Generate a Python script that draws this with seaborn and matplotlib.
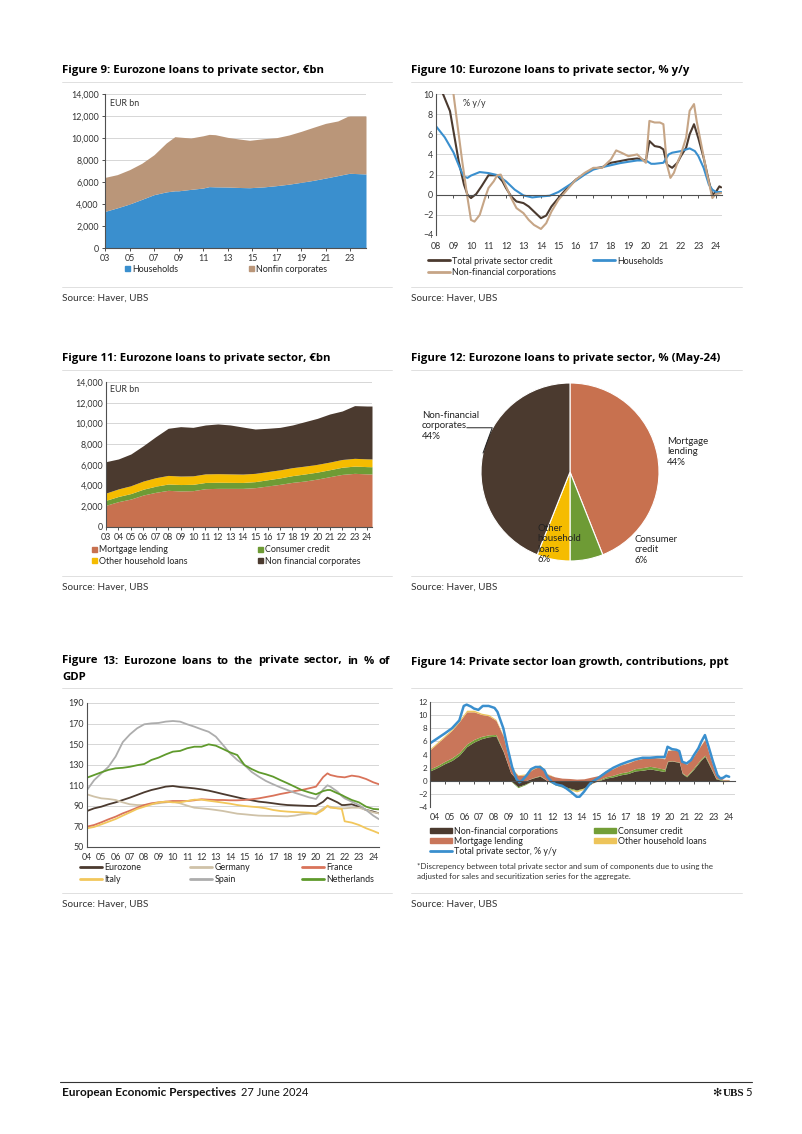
import numpy as np
import pandas as pd
import seaborn as sns
import matplotlib.pyplot as plt
from matplotlib.lines import Line2D
from matplotlib.patches import Patch
from matplotlib.ticker import FuncFormatter

# Colours picked off the page
ubs_blue = '#3A8FCE'
tan = '#BA9679'
light_tan = '#C6A586'
dark_brown = '#4B3A2F'
terracotta = '#C8714F'
green = '#6E9B35'
yellow = '#F5BC00'
grid_col = '#D0D0D0'
axis_col = '#505050'
tick_col = '#333333'

# ---------------- Figure 9: loans to private sector, EUR bn ----------------
f9_years = [2003, 2004, 2005, 2006, 2007, 2008, 2008.7, 2009, 2010, 2011, 2011.5, 2012, 2013,
            2014, 2014.8, 2016, 2017, 2018, 2019, 2020, 2021, 2022, 2022.8, 2023, 2024.3]
f9_households = [3330, 3650, 4000, 4420, 4850, 5100, 5200, 5200, 5330, 5450, 5580, 5560, 5545,
                 5500, 5480, 5560, 5670, 5800, 5970, 6150, 6360, 6580, 6760, 6790, 6730]
f9_nonfin = [3090, 3020, 3120, 3280, 3630, 4450, 4920, 4890, 4670, 4750, 4750, 4740, 4515,
             4400, 4310, 4380, 4360, 4470, 4630, 4820, 4970, 4970, 5210, 5210, 5270]

# ---------------- Figure 10: % y/y ----------------
f10_total_x = [2008.0, 2008.4, 2008.8, 2009.0, 2009.3, 2009.6, 2009.8, 2010.0, 2010.3, 2010.6,
               2011.0, 2011.3, 2011.5, 2011.8, 2012.0, 2012.3, 2012.6, 2013.0, 2013.3, 2013.6,
               2014.0, 2014.3, 2014.6, 2015.0, 2015.5, 2016.0, 2016.5, 2017.0, 2017.5, 2018.0,
               2018.5, 2019.0, 2019.5, 2020.0, 2020.2, 2020.5, 2020.8, 2021.0, 2021.2, 2021.5,
               2021.8, 2022.0, 2022.3, 2022.5, 2022.75, 2023.0, 2023.3, 2023.6, 2023.8, 2024.0,
               2024.2, 2024.3]
f10_total = [11.5, 10.0, 8.3, 6.3, 3.3, 1.0, 0.0, -0.33, 0.07, 0.83,
             1.93, 1.93, 1.93, 1.33, 0.67, -0.17, -0.67, -0.83, -1.17, -1.67,
             -2.33, -2.07, -1.17, -0.33, 0.67, 1.5, 2.07, 2.6, 2.73, 3.17,
             3.33, 3.5, 3.6, 3.4, 5.33, 4.83, 4.73, 4.5, 3.0, 2.67,
             3.17, 3.83, 4.67, 6.0, 7.0, 5.6, 3.67, 1.33, 0.0, 0.27,
             0.83, 0.73]
f10_hh_x = [2008.0, 2008.5, 2009.0, 2009.4, 2009.6, 2009.8, 2010.0, 2010.5, 2011.0, 2011.5,
            2012.0, 2012.5, 2013.0, 2013.5, 2014.0, 2014.5, 2015.0, 2015.5, 2016.0, 2016.5,
            2017.0, 2017.5, 2018.0, 2018.5, 2019.0, 2019.5, 2020.0, 2020.3, 2020.5, 2021.0,
            2021.3, 2021.5, 2022.0, 2022.5, 2022.8, 2023.0, 2023.3, 2023.6, 2023.8, 2024.0,
            2024.3]
f10_hh = [6.8, 5.7, 4.2, 2.5, 1.8, 1.67, 1.9, 2.25, 2.15, 1.95,
          1.33, 0.5, -0.07, -0.27, -0.17, -0.1, 0.27, 0.83, 1.4, 2.0,
          2.5, 2.73, 2.93, 3.13, 3.27, 3.4, 3.4, 3.07, 3.07, 3.17,
          4.0, 4.17, 4.33, 4.6, 4.33, 3.83, 2.67, 1.0, 0.5, 0.27,
          0.27]
f10_nfc_x = [2008.0, 2009.0, 2009.2, 2009.5, 2009.8, 2010.0, 2010.2, 2010.5, 2010.8, 2011.0,
             2011.3, 2011.5, 2011.7, 2012.0, 2012.3, 2012.6, 2013.0, 2013.3, 2013.6, 2014.0,
             2014.3, 2014.6, 2015.0, 2015.5, 2016.0, 2016.5, 2017.0, 2017.5, 2018.0, 2018.3,
             2018.6, 2019.0, 2019.5, 2020.0, 2020.2, 2020.5, 2020.8, 2021.0, 2021.2, 2021.4,
             2021.6, 2021.8, 2022.0, 2022.3, 2022.5, 2022.75, 2022.9, 2023.2, 2023.5, 2023.8,
             2024.0, 2024.3]
f10_nfc = [14.0, 10.0, 7.3, 3.3, -0.3, -2.5, -2.67, -2.0, -0.33, 0.67,
           1.33, 1.93, 2.0, 0.83, -0.33, -1.33, -1.83, -2.5, -3.0, -3.4,
           -2.83, -1.67, -0.5, 0.5, 1.5, 2.17, 2.67, 2.67, 3.5, 4.4,
           4.17, 3.83, 4.0, 3.17, 7.33, 7.17, 7.17, 7.0, 3.0, 1.67,
           2.17, 3.17, 4.0, 5.67, 8.33, 9.0, 7.33, 4.67, 2.0, -0.33,
           0.07, 0.17]

# ---------------- Figure 11: breakdown, EUR bn ----------------
f11_years = [2003, 2004, 2005, 2006, 2007, 2008, 2009, 2010, 2011, 2012, 2013, 2014,
             2015, 2016, 2017, 2018, 2019, 2020, 2021, 2022, 2023, 2024, 2024.4]
f11_mortgage = [2100, 2450, 2700, 3090, 3350, 3540, 3480, 3510, 3700, 3730, 3730, 3730,
                3800, 3960, 4120, 4310, 4440, 4630, 4860, 5080, 5180, 5130, 5120]
f11_consumer = [480, 500, 530, 560, 590, 610, 620, 610, 600, 590, 580, 570,
                580, 600, 620, 650, 680, 670, 670, 690, 700, 700, 700]
f11_other = [700, 730, 760, 790, 820, 830, 820, 820, 830, 830, 820, 810,
             800, 790, 780, 770, 760, 750, 740, 750, 750, 750, 750]
f11_nfc = [3030, 2890, 3060, 3410, 3960, 4550, 4770, 4680, 4720, 4800, 4720, 4540,
           4280, 4180, 4100, 4120, 4290, 4440, 4640, 4680, 5090, 5100, 5110]

# ---------------- Figure 12: shares May-24 ----------------
f12_labels = ['Mortgage\nlending\n44%', 'Consumer\ncredit\n6%',
              'Other\nhousehold\nloans\n6%', 'Non-financial\ncorporates\n44%']
f12_shares = [44, 6, 6, 44]

# ---------------- Figure 13: % of GDP ----------------
f13_years = [2004.0, 2004.5, 2005.0, 2005.5, 2006.0, 2006.5, 2007.0, 2007.5, 2008.0, 2008.5,
             2009.0, 2009.5, 2010.0, 2010.5, 2011.0, 2011.5, 2012.0, 2012.5, 2013.0, 2013.5,
             2014.0, 2014.5, 2015.0, 2015.5, 2016.0, 2016.5, 2017.0, 2017.5, 2018.0, 2018.5,
             2019.0, 2019.5, 2020.0, 2020.5, 2020.8, 2021.0, 2021.5, 2021.8, 2022.0, 2022.5,
             2023.0, 2023.5, 2024.0, 2024.4]
f13_eurozone = [85, 87.6, 89.2, 91.5, 93.4, 95.7, 98, 100.6, 103.2, 105.4,
                107, 108.7, 109.3, 108.3, 107.7, 107, 106, 104.8, 103.2, 101.5,
                99.9, 98.3, 96.7, 95.4, 94.1, 93.4, 92.5, 91.5, 90.8, 90.5,
                90.2, 89.9, 89.9, 94, 98, 96.7, 93.4, 90.8, 90.8, 91.5,
                89.2, 86, 84.4, 82.7]
f13_germany = [101.2, 99, 97.3, 96.7, 95.7, 93.4, 91.5, 90.8, 90.8, 91.5,
               92.5, 93.4, 94.1, 92.5, 90.2, 88.2, 87.6, 86.9, 86, 85,
               83.7, 82.4, 81.8, 81.1, 80.5, 80.3, 80.2, 80.0, 79.8, 80.5,
               81.8, 82.4, 82.7, 87.6, 89.5, 89.2, 87.6, 87.6, 87.6, 88.2,
               88.2, 86, 83.7, 82.7]
f13_france = [69.8, 71.4, 74, 76.9, 79.5, 82.7, 85.3, 88.2, 90.8, 92.5,
              93.4, 94.1, 94.7, 94.7, 94.7, 95.4, 96.4, 96, 95.7, 95.7,
              95.4, 95.4, 95.7, 96.4, 97.3, 98.6, 99.9, 101.5, 102.8, 104.4,
              105.4, 107, 108.7, 118, 121.6, 120, 118.4, 118, 117.7, 119.4,
              118.4, 116.1, 112.9, 111]
f13_italy = [68.2, 69.5, 72, 74.6, 77.2, 80.5, 83.7, 87, 89.2, 91.5,
             93.4, 94.1, 93.4, 93.4, 94.7, 96, 96, 95, 94.1, 93.1,
             92.1, 90.8, 89.9, 89.2, 88.6, 87.6, 86, 85, 84.4, 84,
             83.7, 83.4, 81.8, 86, 90.2, 88.2, 87.6, 87, 75, 73.7,
             71.4, 68.2, 65.6, 63.3]
f13_spain = [105.4, 115, 121.6, 128, 138, 152, 159.5, 165.4, 169.3, 170.2,
             170.6, 171.9, 172.5, 171.9, 169.3, 167, 164.4, 162, 157.3, 149.2,
             141, 134.6, 129.7, 123, 118.4, 114.2, 111, 108, 105.4, 102.8,
             100.6, 98.3, 96.7, 106, 110, 108.7, 103.8, 99.5, 97.3, 94,
             90.8, 86, 80.5, 77]
f13_netherlands = [117.4, 120, 122.6, 125, 126.5, 127, 128, 129.5, 130.7, 134.6,
                   136.9, 140, 142.7, 143.4, 146, 147.5, 147.5, 149.8, 148.5, 145.3,
                   142, 139.4, 129.7, 125.8, 122.6, 120.7, 118.4, 115.1, 112, 108.7,
                   105.4, 103.2, 101.2, 104.4, 105.4, 105.4, 102.2, 100.5, 99, 95.7,
                   93.4, 89.2, 87, 86.6]

# ---------------- Figure 14: contributions, ppt ----------------
f14_comp_x = [2004.0, 2004.5, 2005.0, 2005.5, 2006.0, 2006.5, 2007.0, 2007.5, 2008.0, 2008.5,
              2009.0, 2009.5, 2010.0, 2010.5, 2011.0, 2011.5, 2012.0, 2012.5, 2013.0, 2013.5,
              2014.0, 2014.5, 2015.0, 2015.5, 2016.0, 2016.5, 2017.0, 2017.5, 2018.0, 2018.5,
              2019.0, 2019.5, 2020.0, 2020.2, 2020.5, 2021.0, 2021.2, 2021.5, 2022.0, 2022.5,
              2022.75, 2023.0, 2023.5, 2024.0, 2024.4]
f14_nfc = [1.5, 2.0, 2.6, 3.1, 3.9, 5.2, 5.9, 6.4, 6.7, 6.8,
           4.4, 1.2, -0.9, -0.5, 0.4, 0.7, 0.0, -0.5, -0.8, -1.1,
           -1.4, -1.1, -0.4, 0.0, 0.4, 0.6, 0.9, 1.1, 1.5, 1.6,
           1.8, 1.6, 1.4, 2.9, 3.0, 2.8, 1.1, 0.6, 1.8, 3.2,
           3.7, 2.6, 0.3, -0.05, 0.0]
f14_consumer = [0.3, 0.3, 0.35, 0.4, 0.4, 0.4, 0.4, 0.35, 0.3, 0.25,
                0.1, -0.05, -0.15, -0.1, 0.05, 0.1, 0.0, -0.1, -0.15, -0.15,
                -0.1, -0.05, 0.05, 0.1, 0.2, 0.25, 0.3, 0.3, 0.35, 0.4,
                0.4, 0.4, 0.35, 0.1, 0.05, 0.05, 0.1, 0.15, 0.2, 0.2,
                0.2, 0.15, 0.1, 0.1, 0.1]
f14_mortgage = [2.9, 3.4, 3.75, 4.2, 4.7, 4.9, 4.2, 3.35, 2.9, 2.15,
                2.3, 0.9, 0.8, 0.9, 1.3, 1.4, 1.0, 0.6, 0.4, 0.35,
                0.25, 0.3, 0.5, 0.7, 0.9, 1.0, 1.2, 1.3, 1.3, 1.4,
                1.4, 1.5, 1.6, 1.6, 1.65, 1.7, 1.7, 1.75, 1.8, 2.1,
                2.4, 1.6, 0.5, 0.1, 0.1]
f14_other = [0.2, 0.2, 0.2, 0.2, 0.25, 0.25, 0.25, 0.2, 0.2, 0.15,
             0.1, 0.05, 0.1, 0.15, 0.2, 0.25, 0.1, 0.0, -0.05, -0.1,
             -0.2, -0.15, -0.05, 0.0, 0.05, 0.05, 0.05, 0.05, 0.05, 0.05,
             0.05, 0.05, 0.05, 0.05, 0.05, 0.05, 0.05, 0.05, 0.05, 0.05,
             0.05, 0.0, -0.05, -0.1, -0.1]
f14_total_x = [2004.0, 2004.5, 2005.0, 2005.5, 2006.0, 2006.3, 2006.5, 2006.8, 2007.0, 2007.3,
               2007.6, 2008.0, 2008.4, 2008.6, 2009.0, 2009.3, 2009.6, 2009.9, 2010.1, 2010.3,
               2010.6, 2010.9, 2011.2, 2011.5, 2011.8, 2012.0, 2012.3, 2012.6, 2013.0, 2013.3,
               2013.6, 2014.0, 2014.2, 2014.5, 2014.8, 2015.0, 2015.5, 2016.0, 2016.5, 2017.0,
               2017.5, 2018.0, 2018.5, 2019.0, 2019.5, 2020.0, 2020.2, 2020.5, 2020.8, 2021.0,
               2021.2, 2021.5, 2021.8, 2022.0, 2022.3, 2022.5, 2022.75, 2023.0, 2023.3, 2023.6,
               2023.8, 2024.0, 2024.2, 2024.4]
f14_total = [5.7, 6.45, 7.2, 8.0, 9.2, 11.4, 11.6, 11.3, 11.0, 10.8,
             11.4, 11.4, 11.1, 10.5, 8.0, 4.9, 2.1, 0.25, -0.25, 0.1,
             0.86, 1.78, 2.1, 2.1, 1.6, 0.6, -0.15, -0.56, -0.76, -1.17,
             -1.68, -2.44, -2.44, -1.68, -0.76, -0.25, 0.46, 1.27, 1.98, 2.49,
             2.9, 3.25, 3.5, 3.5, 3.6, 3.6, 5.18, 4.82, 4.72, 4.52,
             2.9, 2.64, 3.15, 3.91, 4.93, 5.94, 6.96, 5.18, 2.9, 0.86,
             0.36, 0.46, 0.76, 0.61]

# ---------------- page set-up ----------------
sns.set_theme(style='white')
plt.rcParams['font.family'] = ['Lato', 'DejaVu Sans']
plt.rcParams['axes.linewidth'] = 0.8

W, H = 802, 1134
fig = plt.figure(figsize=(W / 100, H / 100), dpi=100)
fig.patch.set_facecolor('white')

TICK_FS = 6.4
LEG_FS = 6.4
TITLE_KW = dict(fontsize=8.2, fontweight='bold', color='black', family=['Open Sans', 'DejaVu Sans'])


def px_axes(left, top, right, bottom):
    return fig.add_axes([left / W, 1 - bottom / H, (right - left) / W, (bottom - top) / H])


def fig_text(x, y, s, **kw):
    kw.setdefault('va', 'center')
    return fig.text(x / W, 1 - y / H, s, **kw)


def justified_text(x0, x1, y, s, **kw):
    # spread the words so the line fills x0..x1, like the justified heading
    words = s.split()
    objs = [fig_text(x0, y, w, **kw) for w in words]
    r = fig.canvas.get_renderer()
    widths = [o.get_window_extent(r).width for o in objs]
    gap = (x1 - x0 - sum(widths)) / (len(words) - 1)
    x = x0
    for o, w in zip(objs, widths):
        o.set_position((x / W, 1 - y / H))
        x += w + gap


def page_line(x0, x1, y, color='#DADADA', lw=0.6):
    fig.add_artist(Line2D([x0 / W, x1 / W], [1 - y / H, 1 - y / H], color=color, lw=lw))


def px_legend(handles, labels, x, y, **kw):
    opts = dict(loc='upper left', bbox_to_anchor=(x / W, 1 - y / H), frameon=False,
                borderaxespad=0, borderpad=0, fontsize=LEG_FS, labelspacing=0.25,
                handletextpad=0.25, labelcolor='#222222')
    opts.update(kw)
    fig.legend(handles, labels, **opts)


def style_axes(ax, ytick_len=0):
    ax.set_facecolor('white')
    for s in ['top', 'right']:
        ax.spines[s].set_visible(False)
    for s in ['left', 'bottom']:
        ax.spines[s].set_color(axis_col)
        ax.spines[s].set_linewidth(0.8)
    ax.yaxis.grid(True, color=grid_col, lw=0.6)
    ax.xaxis.grid(False)
    ax.set_axisbelow(True)
    ax.tick_params(axis='both', labelsize=TICK_FS, colors=tick_col, width=0.6, pad=2,
                   direction='out', left=True, bottom=True)
    ax.tick_params(axis='y', length=ytick_len)
    ax.tick_params(axis='x', length=2.5)
    ax.set_xlabel('')
    ax.set_ylabel('')


def zero_axis(ax, ticks, labels, label_pos, pad):
    # x axis drawn at y = 0 with ticks, labels at the bottom of the plot
    ax.spines['bottom'].set_position(('data', 0))
    ax.set_xticks(ticks)
    ax.tick_params(axis='x', labelbottom=False, length=2.5)
    sec = ax.secondary_xaxis('bottom')
    sec.set_xticks(label_pos, labels)
    sec.tick_params(length=0, labelsize=TICK_FS, colors=tick_col, pad=pad)
    sec.spines['bottom'].set_visible(False)


thousands = FuncFormatter(lambda v, p: f'{v:,.0f}')

# titles, rules and sources
titles = [(62, 70, 'Figure 9: Eurozone loans to private sector, €bn'),
          (411, 70, 'Figure 10: Eurozone loans to private sector, % y/y'),
          (62, 359, 'Figure 11: Eurozone loans to private sector, €bn'),
          (411, 359, 'Figure 12: Eurozone loans to private sector, % (May-24)'),
          (62, 677, 'GDP'),
          (411, 663, 'Figure 14: Private sector loan growth, contributions, ppt')]
for x, y, t in titles:
    fig_text(x, y, t, **TITLE_KW)
justified_text(62, 390, 661, 'Figure 13: Eurozone loans to the private sector, in % of', **TITLE_KW)

for x0, x1 in [(62, 392), (411, 742)]:
    for y in [82, 370, 688]:
        page_line(x0, x1, y)
    for y in [287, 576, 893]:
        page_line(x0, x1, y)
    for y in [298, 587, 904]:
        fig_text(x0, y, 'Source: Haver, UBS', fontsize=7.2, color='#333333')

# ---------------- Figure 9 ----------------
ax9 = px_axes(105, 94, 366, 248)
ax9.stackplot(f9_years, f9_households, f9_nonfin, colors=[ubs_blue, tan], lw=0)
style_axes(ax9, ytick_len=2.5)
ax9.set_xlim(2003, 2024.3)
ax9.set_ylim(0, 14000)
ax9.set_yticks(range(0, 14001, 2000))
ax9.yaxis.set_major_formatter(thousands)
ax9.set_xticks(range(2003, 2024, 2), [f'{y % 100:02d}' for y in range(2003, 2024, 2)])
ax9.text(0.02, 0.94, 'EUR bn', transform=ax9.transAxes, fontsize=TICK_FS, color=tick_col, va='center')
sq = dict(handlelength=0.55, handleheight=0.55)
px_legend([Patch(color=ubs_blue)], ['Households'], 125, 264.5, **sq)
px_legend([Patch(color=tan)], ['Nonfin corporates'], 249, 264.5, **sq)

# ---------------- Figure 10 ----------------
ax10 = px_axes(436, 94, 722, 235)
sns.lineplot(x=f10_total_x, y=f10_total, color=dark_brown, lw=1.5, ax=ax10)
sns.lineplot(x=f10_hh_x, y=f10_hh, color=ubs_blue, lw=1.5, ax=ax10)
sns.lineplot(x=f10_nfc_x, y=f10_nfc, color=light_tan, lw=1.5, ax=ax10)
style_axes(ax10)
ax10.set_xlim(2008, 2024.35)
ax10.set_ylim(-4, 10)
ax10.set_yticks(range(-4, 11, 2))
yrs10 = list(range(2008, 2025))
zero_axis(ax10, yrs10, [f'{y % 100:02d}' for y in yrs10], yrs10, 5)
ax10.text(0.094, 0.936, '% y/y', transform=ax10.transAxes, fontsize=TICK_FS, color=tick_col, va='center')
ln = dict(handlelength=2.5)
px_legend([Line2D([], [], color=dark_brown, lw=2), Line2D([], [], color=light_tan, lw=2)],
          ['Total private sector credit', 'Non-financial corporations'], 428, 256.5, **ln)
px_legend([Line2D([], [], color=ubs_blue, lw=2)], ['Households'], 593, 256.5, **ln)

# ---------------- Figure 11 ----------------
ax11 = px_axes(106, 382, 372, 527)
ax11.stackplot(f11_years, f11_mortgage, f11_consumer, f11_other, f11_nfc,
               colors=[terracotta, green, yellow, dark_brown], lw=0)
style_axes(ax11, ytick_len=0)
ax11.set_xlim(2003, 2024.4)
ax11.set_ylim(0, 14000)
ax11.set_yticks(range(0, 14001, 2000))
ax11.yaxis.set_major_formatter(thousands)
ax11.set_xticks(range(2003, 2025), [f'{y % 100:02d}' for y in range(2003, 2025)])
ax11.text(0.015, 0.945, 'EUR bn', transform=ax11.transAxes, fontsize=TICK_FS, color=tick_col, va='center')
px_legend([Patch(color=terracotta), Patch(color=yellow)],
          ['Mortgage lending', 'Other household loans'], 92, 545.5, **sq)
px_legend([Patch(color=green), Patch(color=dark_brown)],
          ['Consumer credit', 'Non financial corporates'], 258, 545.5, **sq)

# ---------------- Figure 12 ----------------
ax12 = px_axes(481, 383, 659, 561)
ax12.pie(f12_shares, colors=[terracotta, green, yellow, dark_brown], startangle=90,
         counterclock=False, wedgeprops=dict(edgecolor='white', linewidth=0.8))
ax12.set_xlim(-1, 1)
ax12.set_ylim(-1, 1)
ax12.set_aspect('equal')
pie_lab = [(1.09, 0.225), (0.73, -0.875), (-0.37, -0.81), (-1.663, 0.517)]
for (lx, ly), lab in zip(pie_lab, f12_labels):
    ax12.text(lx, ly, lab, fontsize=6.9, color='#222222', ha='left', va='center',
              linespacing=1.2, clip_on=False)
ax12.annotate('', xy=(-0.977, 0.213), xytext=(-1.16, 0.497),
              arrowprops=dict(arrowstyle='-', color='#222222', lw=0.7, shrinkA=0, shrinkB=0,
                              connectionstyle='angle,angleA=0,angleB=70'),
              annotation_clip=False)

# ---------------- Figure 13 ----------------
f13_names = ['Eurozone', 'Germany', 'France', 'Italy', 'Spain', 'Netherlands']
f13_colors = {'Eurozone': dark_brown, 'Germany': '#CFC2A8', 'France': '#D9735A',
              'Italy': '#F2C75C', 'Spain': '#ADADAD', 'Netherlands': '#5F9A2C'}
f13_series = [f13_eurozone, f13_germany, f13_france, f13_italy, f13_spain, f13_netherlands]
df13 = pd.concat([pd.DataFrame({'year': f13_years, 'value': v, 'country': n})
                  for n, v in zip(f13_names, f13_series)])
ax13 = px_axes(87, 703, 379, 847)
sns.lineplot(data=df13, x='year', y='value', hue='country', hue_order=f13_names,
             palette=f13_colors, lw=1.3, legend=False, estimator=None, ax=ax13)
style_axes(ax13)
ax13.set_xlim(2004, 2024.4)
ax13.set_ylim(50, 190)
ax13.set_yticks(range(50, 191, 20))
ax13.set_xticks(range(2004, 2025), [f'{y % 100:02d}' for y in range(2004, 2025)])
ax13.tick_params(axis='x', length=0, pad=4)
h13 = {n: Line2D([], [], color=f13_colors[n], lw=2) for n in f13_names}
px_legend([h13['Eurozone'], h13['Italy']], ['Eurozone', 'Italy'], 80, 863.5, **ln)
px_legend([h13['Germany'], h13['Spain']], ['Germany', 'Spain'], 190, 863.5, **ln)
px_legend([h13['France'], h13['Netherlands']], ['France', 'Netherlands'], 302, 863.5, **ln)

# ---------------- Figure 14 ----------------
ax14 = px_axes(430, 702, 735, 807)
comp_colors = [dark_brown, '#739E37', '#C9765A', '#EDC45A']
comp_vals = [f14_nfc, f14_consumer, f14_mortgage, f14_other]
pos_base = np.zeros(len(f14_comp_x))
neg_base = np.zeros(len(f14_comp_x))
for vals, col in zip(comp_vals, comp_colors):
    v = np.array(vals)
    pos = np.clip(v, 0, None)
    neg = np.clip(v, None, 0)
    ax14.fill_between(f14_comp_x, pos_base, pos_base + pos, color=col, lw=0)
    ax14.fill_between(f14_comp_x, neg_base, neg_base + neg, color=col, lw=0)
    pos_base = pos_base + pos
    neg_base = neg_base + neg
sns.lineplot(x=f14_total_x, y=f14_total, color=ubs_blue, lw=1.8, ax=ax14)
style_axes(ax14)
ax14.set_xlim(2004, 2024.8)
ax14.set_ylim(-4, 12)
ax14.set_yticks(range(-4, 13, 2))
ax14.tick_params(axis='y', labelsize=5.8)
yrs14 = list(range(2004, 2025))
zero_axis(ax14, yrs14[1:], [f'{y % 100:02d}' for y in yrs14], [y + 0.35 for y in yrs14], 4)
bar = dict(handlelength=2.5, handleheight=0.5)
px_legend([Patch(color=comp_colors[0]), Patch(color=comp_colors[2]), Line2D([], [], color=ubs_blue, lw=2)],
          ['Non-financial corporations', 'Mortgage lending', 'Total private sector, % y/y'],
          430, 826.5, labelspacing=0.12, **bar)
px_legend([Patch(color=comp_colors[1]), Patch(color=comp_colors[3])],
          ['Consumer credit', 'Other household loans'], 594, 826.5, labelspacing=0.12, **bar)
fig_text(417, 866, '*Discrepency between total private sector and sum of components due to using the',
         fontsize=5.8, color='#333333')
fig_text(417, 877, 'adjusted for sales and securitization series for the aggregate.',
         fontsize=5.8, color='#333333')

# ---------------- footer ----------------
page_line(60, 752, 1082, color='#333333', lw=0.8)
fig_text(62, 1093, 'European Economic Perspectives', fontsize=8.5, fontweight='bold', color='#111111')
fig_text(241, 1093, '27 June 2024', fontsize=8.0, color='#111111')
fig_text(752, 1093, '5', fontsize=8.0, ha='right', color='#111111')
fig_text(744, 1093, 'UBS', fontsize=8.0, ha='right', fontweight='bold',
         family='Liberation Serif', color='#111111')
fig_text(721, 1093, '✻', fontsize=8.0, ha='right', family='DejaVu Sans', color='#111111')

fig.savefig('out.png', dpi=100, facecolor='white')
